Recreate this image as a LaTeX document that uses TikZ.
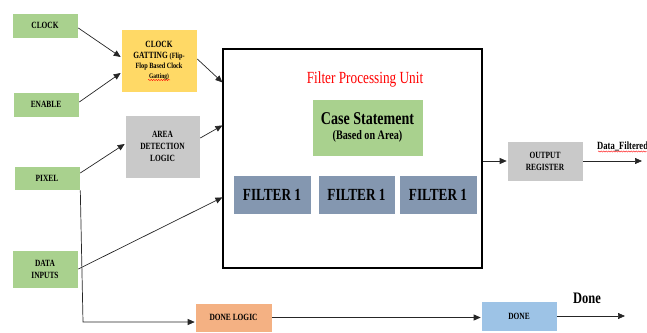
\documentclass[tikz,border=0pt]{standalone}
\usepackage{fontspec}
\setmainfont{Liberation Serif}[FakeStretch=0.78]
\usetikzlibrary{arrows.meta,decorations.pathmorphing}
\definecolor{boxgreen}{HTML}{A9D18E}
\definecolor{boxgold}{HTML}{FFD966}
\definecolor{boxgray}{HTML}{C9C9C9}
\definecolor{boxslate}{HTML}{8497B0}
\definecolor{boxorange}{HTML}{F4B183}
\definecolor{boxblue}{HTML}{9DC3E6}
\begin{document}
\begin{tikzpicture}[x=1pt,y=-1pt,
  box/.style={draw=white, line width=0.6pt, inner sep=0pt, align=center,
    font=\fontsize{9.5}{12}\selectfont\bfseries},
  inbox/.style={box, fill=boxgreen, minimum width=66pt},
  filterbox/.style={box, fill=boxslate, minimum height=39pt,
    font=\fontsize{17}{20}\selectfont\bfseries},
  arr/.style={-{Triangle[length=7pt,width=6pt]}, line width=0.7pt, draw=black!85},
  squiggle/.style={draw=red, line width=0.4pt, decorate,
    decoration={snake, amplitude=0.6pt, segment length=2.5pt}}]
\useasboundingbox (0,0) rectangle (647,332);

% inputs
\node[inbox, minimum height=25pt] (clock) at (45,25.5) {CLOCK};
\node[inbox, minimum height=25pt] (enable) at (46,104.5) {ENABLE};
\node[inbox, minimum height=24pt] (pixel) at (47,178) {PIXEL};
\node[inbox, minimum height=38pt] (data) at (45,269) {DATA\\INPUTS};

% clock gating & area detection
\node[box, fill=boxgold, minimum width=76pt, minimum height=63pt] (cg) at (159,60.5)
  {CLOCK\\[-0.5pt]GATTING {\fontsize{8}{10}\selectfont (Flip-}\\[-2pt]
   {\fontsize{8}{10}\selectfont Flop Based Clock}\\[-2pt]
   {\fontsize{7}{9}\selectfont Gatting)}};
\node[box, fill=boxgray, minimum width=75pt, minimum height=63pt] (area) at (162.5,146.5)
  {AREA\\DETECTION\\LOGIC};

% filter processing unit
\node[draw=black, line width=1.2pt, minimum width=259pt, minimum height=219pt, inner sep=0pt] (fpu) at (352.5,158.5) {};
\node[text=red, font=\fontsize{17}{20}\selectfont, inner sep=0pt] (title) at (365,79) {Filter Processing Unit};
\node[box, fill=boxgreen, minimum width=111pt, minimum height=57pt] (case) at (367.5,127.5)
  {{\fontsize{18}{21}\selectfont Case Statement}\\[3pt]{\fontsize{13}{15}\selectfont (Based on Area)}};
\node[filterbox, minimum width=78pt] (f1) at (272,194.5) {FILTER 1};
\node[filterbox, minimum width=77pt] (f2) at (356.5,194.5) {FILTER 1};
\node[filterbox, minimum width=78pt] (f3) at (438,194.5) {FILTER 1};

% outputs
\node[box, fill=boxgray, minimum width=76pt, minimum height=40pt] (outreg) at (545,161) {OUTPUT\\REGISTER};
\node[box, fill=boxorange, minimum width=77pt, minimum height=29pt] (donelogic) at (233.5,317.5) {DONE LOGIC};
\node[box, fill=boxblue, minimum width=76pt, minimum height=30pt] (done) at (519,316) {DONE};

\node[font=\fontsize{11}{13}\selectfont\bfseries, anchor=west, inner sep=0pt] (dflabel) at (597,146) {Data\_Filtered};
\node[font=\fontsize{16}{18}\selectfont\bfseries, inner sep=0pt] (donelabel) at (587,298) {Done};

% spelling marks
\draw[squiggle] (598,151.5) -- (647,151.5);
\draw[squiggle] (148,80) -- (170,80);

\coordinate (dfend) at (642,161);
\coordinate (doneend) at (625,316);
\coordinate (bend) at (83,322);

% connectors
\draw[arr] ([yshift=-2.5pt]clock.east) -- ([yshift=3.5pt]cg.west);
\draw[arr] ([yshift=2.5pt]enable.east) -- ([yshift=-12.5pt]cg.west);
\draw[arr] ([yshift=1.5pt]cg.east) -- ([yshift=-34pt]fpu.north west);
\draw[arr] ([yshift=8.5pt]area.east) -- ([yshift=-77pt]fpu.north west);
\draw[arr] ([yshift=5pt]pixel.east) -- ([yshift=2.5pt]area.west);
\draw[arr] (data.east) -- ([yshift=-149pt]fpu.north west);
\draw[arr] (outreg.west -| fpu.east) -- (outreg.west);
\draw[arr] (outreg.east) -- (dfend);
\draw[arr] (pixel.south east) -- (bend) -- (bend -| donelogic.west);
\draw[arr] (donelogic.east) -- (donelogic.east -| done.west);
\draw[arr] (done.east) -- (doneend);
\end{tikzpicture}
\end{document}
